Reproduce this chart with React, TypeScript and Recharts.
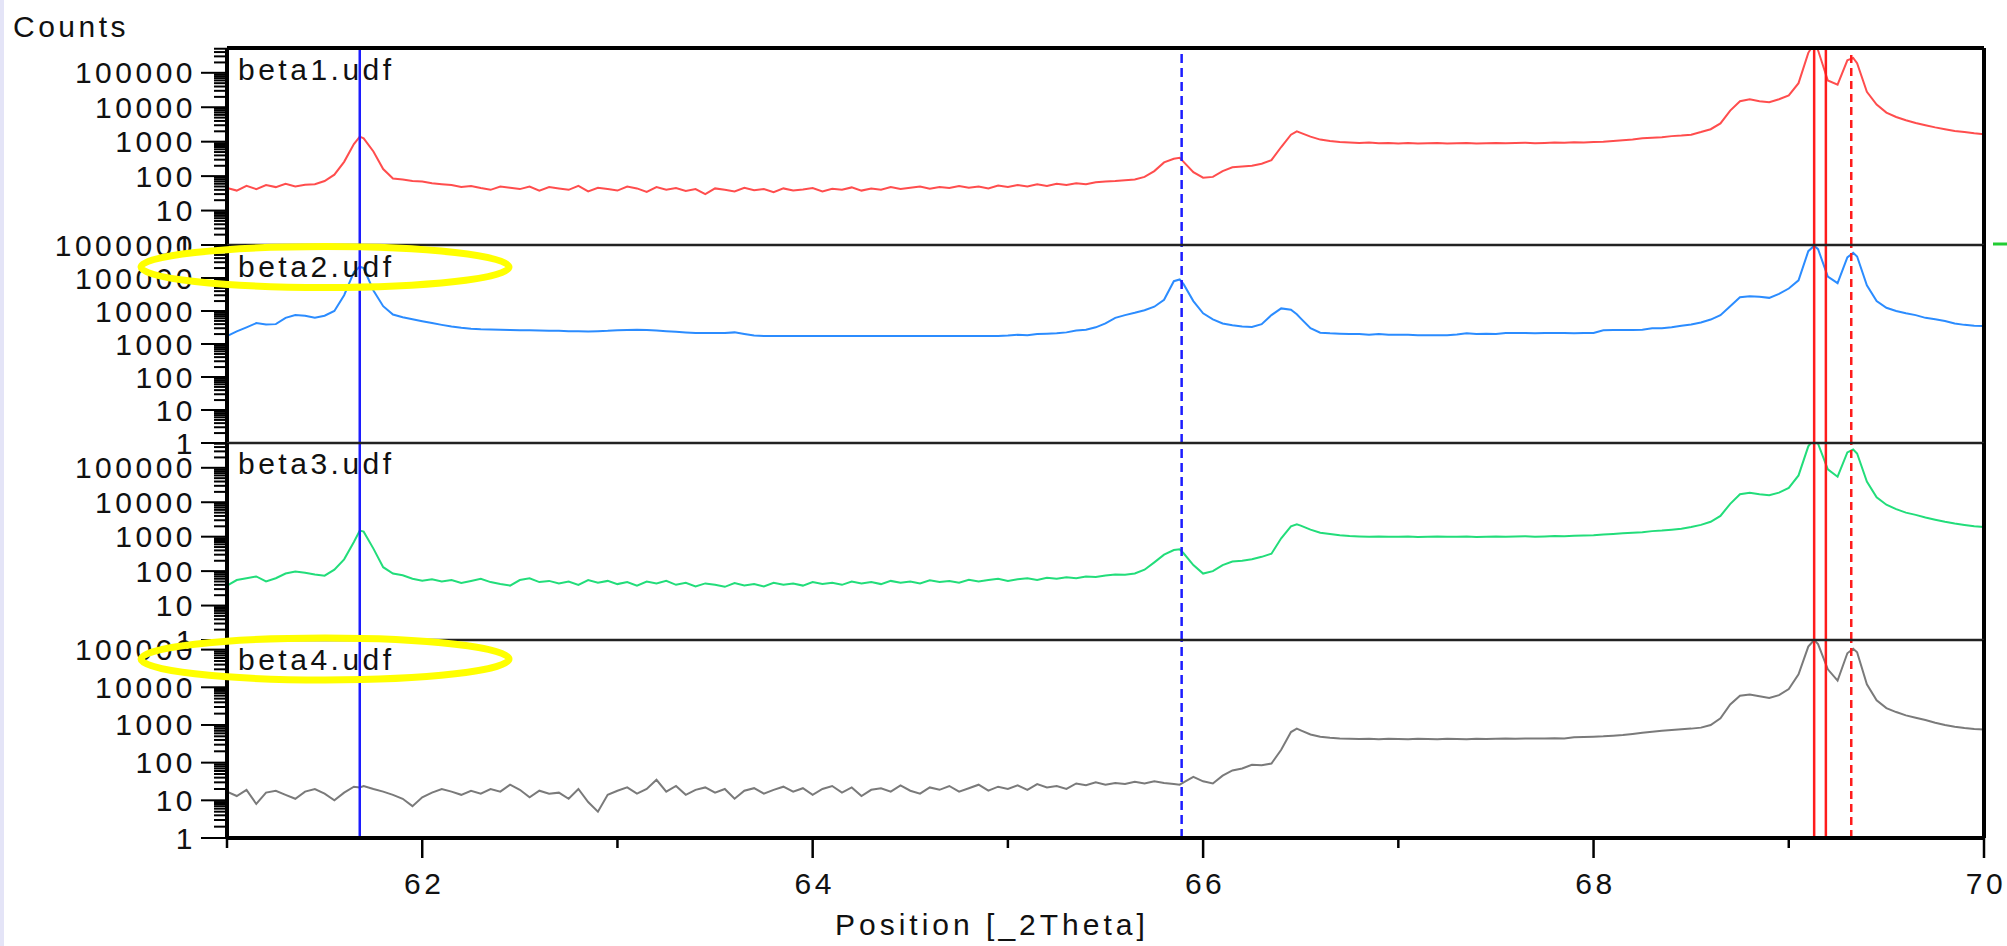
import React from "react";
import { LineChart, Line, XAxis, YAxis, ReferenceLine } from "recharts";

// 2Theta positions (one row per degree, extra points at peak tops)
const positions = [
  61.0, 61.05, 61.1, 61.15, 61.2, 61.25, 61.3, 61.35, 61.4, 61.45, 61.5, 61.55, 61.6, 61.65, 61.68, 61.7, 61.75, 61.8, 61.85, 61.9, 61.95,
  62.0, 62.05, 62.1, 62.15, 62.2, 62.25, 62.3, 62.35, 62.4, 62.45, 62.5, 62.55, 62.6, 62.65, 62.7, 62.75, 62.8, 62.85, 62.9, 62.95,
  63.0, 63.05, 63.1, 63.15, 63.2, 63.25, 63.3, 63.35, 63.4, 63.45, 63.5, 63.55, 63.6, 63.65, 63.7, 63.75, 63.8, 63.85, 63.9, 63.95,
  64.0, 64.05, 64.1, 64.15, 64.2, 64.25, 64.3, 64.35, 64.4, 64.45, 64.5, 64.55, 64.6, 64.65, 64.7, 64.75, 64.8, 64.85, 64.9, 64.95,
  65.0, 65.05, 65.1, 65.15, 65.2, 65.25, 65.3, 65.35, 65.4, 65.45, 65.5, 65.55, 65.6, 65.65, 65.7, 65.75, 65.8, 65.85, 65.88, 65.9, 65.95,
  66.0, 66.05, 66.1, 66.15, 66.2, 66.25, 66.3, 66.35, 66.4, 66.45, 66.48, 66.5, 66.55, 66.6, 66.65, 66.7, 66.75, 66.8, 66.85, 66.9, 66.95,
  67.0, 67.05, 67.1, 67.15, 67.2, 67.25, 67.3, 67.35, 67.4, 67.45, 67.5, 67.55, 67.6, 67.65, 67.7, 67.75, 67.8, 67.85, 67.9, 67.95,
  68.0, 68.05, 68.1, 68.15, 68.2, 68.25, 68.3, 68.35, 68.4, 68.45, 68.5, 68.55, 68.6, 68.65, 68.7, 68.75, 68.8, 68.85, 68.9, 68.95,
  69.0, 69.05, 69.1, 69.13, 69.15, 69.2, 69.25, 69.3, 69.33, 69.35, 69.4, 69.45, 69.5, 69.55, 69.6, 69.65, 69.7, 69.75, 69.8, 69.85, 69.9, 69.95,
  70.0,
];

const beta1 = [
  45, 38, 52, 42, 55, 48, 60, 50, 56, 58, 72, 110, 260, 850, 1400, 1250, 520, 160, 85, 80, 72,
  70, 62, 58, 55, 48, 52, 45, 40, 50, 46, 42, 50, 38, 48, 44, 40, 52, 36, 46, 42,
  38, 50, 44, 35, 48, 40, 45, 37, 42, 30, 44, 40, 36, 46, 39, 42, 34, 44, 38, 41,
  45, 36, 43, 40, 47, 38, 44, 40, 48, 42, 46, 50, 43, 48, 45, 52, 46, 50, 44, 53,
  48, 55, 50, 58, 52, 60, 55, 62, 58, 66, 70, 72, 76, 80, 95, 140, 250, 320, 340, 260, 130,
  90, 95, 140, 180, 190, 200, 230, 290, 700, 1600, 2000, 1800, 1400, 1150, 1050, 980, 950, 920, 940, 900, 920,
  890, 910, 880, 900, 920, 890, 900, 910, 880, 900, 920, 900, 910, 930, 900, 920, 940, 930, 960, 950,
  980, 1000, 1050, 1100, 1150, 1250, 1300, 1350, 1450, 1500, 1600, 1900, 2300, 3400, 8000, 15000, 17000, 15000, 14000, 17000,
  22000, 50000, 380000, 700000, 450000, 60000, 45000, 230000, 270000, 190000, 28000, 12000, 7000, 5200, 4200, 3500, 3000, 2600, 2300, 2050, 1900, 1750,
  1650,
];

const beta2 = [
  1750, 2400, 3200, 4300, 3900, 4000, 6200, 7500, 7200, 6200, 7200, 10000, 30000, 150000, 220000, 200000, 42000, 14000, 7800, 6500, 5600,
  4900, 4300, 3800, 3400, 3100, 2900, 2800, 2750, 2700, 2650, 2600, 2600, 2550, 2500, 2500, 2450, 2450, 2400, 2450, 2500,
  2600, 2650, 2700, 2650, 2550, 2450, 2350, 2250, 2150, 2150, 2150, 2150, 2250, 2000, 1800, 1750, 1750, 1750, 1750, 1750,
  1750, 1750, 1750, 1750, 1750, 1750, 1750, 1750, 1750, 1750, 1750, 1750, 1750, 1750, 1750, 1750, 1750, 1750, 1750, 1750,
  1800, 1900, 1850, 2000, 2050, 2100, 2250, 2550, 2700, 3200, 4200, 6200, 7500, 8800, 10500, 13500, 22000, 80000, 90000, 65000, 20000,
  8500, 5600, 4200, 3700, 3400, 3300, 4000, 7500, 12000, 11000, 8000, 6000, 3000, 2200, 2100, 2050, 2000, 2000, 1900, 2000, 1900,
  1900, 1900, 1850, 1850, 1850, 1850, 1950, 2100, 2000, 2050, 2000, 2150, 2150, 2150, 2100, 2150, 2150, 2150, 2100, 2150,
  2150, 2600, 2650, 2650, 2650, 2700, 3000, 3000, 3200, 3600, 3900, 4500, 5500, 7500, 14000, 26000, 28000, 27000, 25000, 33000,
  48000, 85000, 650000, 950000, 750000, 110000, 70000, 420000, 580000, 450000, 60000, 20000, 12500, 10000, 8500, 7500, 6200, 5600, 5000, 4200, 3800, 3600,
  3500,
];

const beta3 = [
  38, 55, 62, 70, 50, 62, 85, 97, 90, 80, 74, 110, 220, 700, 1500, 1400, 450, 130, 85, 76, 60,
  53, 58, 50, 55, 45, 52, 60, 48, 42, 38, 55, 62, 48, 52, 44, 50, 40, 55, 46, 52,
  42, 48, 38, 50, 44, 52, 40, 46, 36, 44, 40, 35, 45, 38, 42, 36, 46, 40, 44, 38,
  48, 42, 46, 40, 50, 44, 48, 42, 52, 46, 50, 44, 54, 48, 52, 46, 56, 50, 55, 60,
  52, 58, 62, 55, 64, 60, 66, 62, 70, 68, 75, 80, 78, 85, 110, 180, 300, 410, 430, 330, 150,
  85, 100, 150, 190, 200, 220, 260, 320, 900, 2000, 2300, 2100, 1600, 1300, 1200, 1100, 1050, 1020, 1000, 1020, 1000,
  990, 1010, 980, 1000, 1020, 990, 1000, 1010, 980, 1000, 1020, 1000, 1010, 1030, 1000, 1020, 1040, 1030, 1060, 1080,
  1100, 1150, 1200, 1250, 1300, 1350, 1450, 1500, 1600, 1700, 1900, 2200, 2700, 4000, 9000, 17000, 19000, 17000, 16000, 19000,
  26000, 60000, 420000, 700000, 500000, 90000, 55000, 280000, 340000, 260000, 40000, 14000, 8500, 6300, 5000, 4300, 3600, 3100, 2700, 2400, 2200, 2000,
  1900,
];

const beta4 = [
  17, 13, 19, 8, 16, 18, 14, 11, 17, 20, 15, 10, 16, 23, 22, 24, 20, 17, 14, 11, 7,
  12, 16, 20, 17, 14, 18, 15, 20, 17, 26, 19, 12, 18, 15, 16, 11, 20, 9, 5, 14,
  18, 22, 15, 20, 35, 17, 24, 14, 19, 22, 16, 20, 11, 18, 21, 15, 19, 23, 17, 21,
  14, 20, 24, 16, 22, 13, 19, 21, 17, 25, 18, 15, 22, 19, 24, 17, 21, 26, 18, 23,
  20, 25, 19, 27, 22, 24, 20, 28, 25, 30, 26, 29, 27, 31, 28, 32, 29, 27, 26, 30, 42,
  32, 28, 45, 62, 70, 88, 85, 95, 220, 650, 800, 720, 560, 490, 460, 440, 430, 425, 430, 420, 430,
  425, 420, 430, 425, 420, 430, 425, 420, 430, 425, 430, 435, 430, 440, 435, 440, 445, 440, 470, 480,
  490, 500, 520, 540, 580, 620, 660, 700, 730, 770, 800, 850, 1000, 1500, 3500, 6000, 6400, 5800, 5200, 6200,
  9000, 22000, 120000, 180000, 140000, 30000, 15000, 80000, 105000, 85000, 12000, 4500, 2800, 2200, 1800, 1550, 1350, 1150, 1000, 900, 830, 780,
  760,
];

const seriesKeys = ["b1", "b2", "b3", "b4"];
const seriesNames = ["beta1.udf", "beta2.udf", "beta3.udf", "beta4.udf"];
const seriesColors = ["#ff4d4d", "#2b8cff", "#22dd7a", "#7a7a7a"];
const panelMax = [525000, 1000000, 525000, 180000];

const decades = [1, 10, 100, 1000, 10000, 100000, 1000000];
const xTicks = [61, 62, 63, 64, 65, 66, 67, 68, 69, 70];
const xLabels = [62, 64, 66, 68, 70];

// reference peak positions
const markers = [
  { x: 61.68, color: "#1c1cff", dash: undefined },
  { x: 65.89, color: "#1c1cff", dash: "9 5" },
  { x: 69.13, color: "#ff1c1c", dash: undefined },
  { x: 69.19, color: "#ff1c1c", dash: undefined },
  { x: 69.32, color: "#ff1c1c", dash: "8 5" },
];

const rows = positions.map((pos, i) => ({
  pos,
  b1: beta1[i],
  b2: beta2[i],
  b3: beta3[i],
  b4: beta4[i],
}));

const W = 2007;
const H = 946;
const PLOT_L = 227;
const PLOT_R = 1984;
const PANEL_Y = [48, 245, 443, 640, 838];
const PAD = 24;
const FONT = "'Liberation Sans', Arial, sans-serif";
const SPACING = 3.5;

function yTicksFor(max: number) {
  const out: number[] = [];
  decades.forEach((d) => {
    for (let m = 1; m <= 9; m++) {
      if (d * m <= max) out.push(d * m);
    }
  });
  return out;
}

const YTick = (props: any) => {
  const { x, y, payload } = props;
  const v = payload.value;
  const major = decades.includes(v);
  return (
    <g>
      <line x1={x - (major ? 26 : 13)} x2={x} y1={y} y2={y} stroke="#000" strokeWidth={2} />
      {major && (
        <text x={x - 31} y={y + 10.5} textAnchor="end" fontSize={30} fontFamily={FONT} letterSpacing={SPACING} fill="#111">
          {v}
        </text>
      )}
    </g>
  );
};

const XTick = (props: any) => {
  const { x, y, payload } = props;
  const v = payload.value;
  const lab = xLabels.includes(v);
  return (
    <g>
      <line x1={x} x2={x} y1={y} y2={y + (lab ? 20 : 10)} stroke="#000" strokeWidth={2.5} />
      {lab && (
        <text x={x + 2} y={y + 56} textAnchor="middle" fontSize={30} fontFamily={FONT} letterSpacing={SPACING} fill="#111">
          {v}
        </text>
      )}
    </g>
  );
};

function Panel({ idx }: { idx: number }) {
  const top = PANEL_Y[idx];
  const h = PANEL_Y[idx + 1] - top;
  const last = idx === 3;
  const xAxisH = 110;
  const chartH = h + PAD + (last ? xAxisH : PAD);
  const max = panelMax[idx];

  return (
    <div style={{ position: "absolute", left: 0, top: top - PAD }}>
      <LineChart
        width={W}
        height={chartH}
        data={rows}
        margin={{ top: PAD, right: W - PLOT_R, bottom: last ? 0 : PAD, left: 0 }}
      >
        <XAxis
          type="number"
          dataKey="pos"
          domain={[61, 70]}
          allowDataOverflow
          ticks={xTicks}
          interval={0}
          hide={!last}
          height={xAxisH}
          tickSize={0}
          tickMargin={0}
          tickLine={false}
          tick={XTick}
          axisLine={{ stroke: "#000", strokeWidth: 4 }}
        />
        <YAxis
          type="number"
          scale="log"
          domain={[1, max]}
          allowDataOverflow
          ticks={yTicksFor(max)}
          interval={0}
          width={PLOT_L}
          tickSize={0}
          tickMargin={0}
          tickLine={false}
          tick={YTick}
          axisLine={{ stroke: "#000", strokeWidth: 4 }}
        />
        <Line
          type="linear"
          dataKey={seriesKeys[idx]}
          stroke={seriesColors[idx]}
          strokeWidth={2}
          dot={false}
          activeDot={false}
          isAnimationActive={false}
        />
        {markers.map((m) => (
          <ReferenceLine key={m.x} x={m.x} stroke={m.color} strokeWidth={2.5} strokeDasharray={m.dash} />
        ))}
        <ReferenceLine y={max} stroke={idx === 0 ? "#000" : "#222"} strokeWidth={idx === 0 ? 4 : 2.5} />
        <ReferenceLine x={70} stroke="#000" strokeWidth={4} />
      </LineChart>
    </div>
  );
}

const nameBaselines = [80, 277, 474, 670];

export default function App() {
  return (
    <div style={{ position: "absolute", left: 0, top: 0, width: W, height: H, background: "#fff", overflow: "hidden" }}>
      {[0, 1, 2, 3].map((i) => (
        <Panel key={i} idx={i} />
      ))}
      <svg width={W} height={H} style={{ position: "absolute", left: 0, top: 0, pointerEvents: "none" }}>
        <rect x={0} y={0} width={4} height={H} fill="#e4e4f7" />
        <line x1={1993} x2={2007} y1={244} y2={244} stroke="#22cc33" strokeWidth={3} />
        <text x={13} y={37} fontSize={30} fontFamily={FONT} letterSpacing={SPACING} fill="#111">
          Counts
        </text>
        {seriesNames.map((n, i) => (
          <text key={n} x={238} y={nameBaselines[i]} fontSize={30} fontFamily={FONT} letterSpacing={SPACING} fill="#111">
            {n}
          </text>
        ))}
        <text x={835} y={935} fontSize={30} fontFamily={FONT} letterSpacing={4} fill="#111">
          Position [_2Theta]
        </text>
        <ellipse cx={325} cy={267} rx={184} ry={20.5} fill="none" stroke="#ffff00" strokeWidth={7} />
        <ellipse cx={325} cy={659} rx={184} ry={21} fill="none" stroke="#ffff00" strokeWidth={7} />
      </svg>
    </div>
  );
}
